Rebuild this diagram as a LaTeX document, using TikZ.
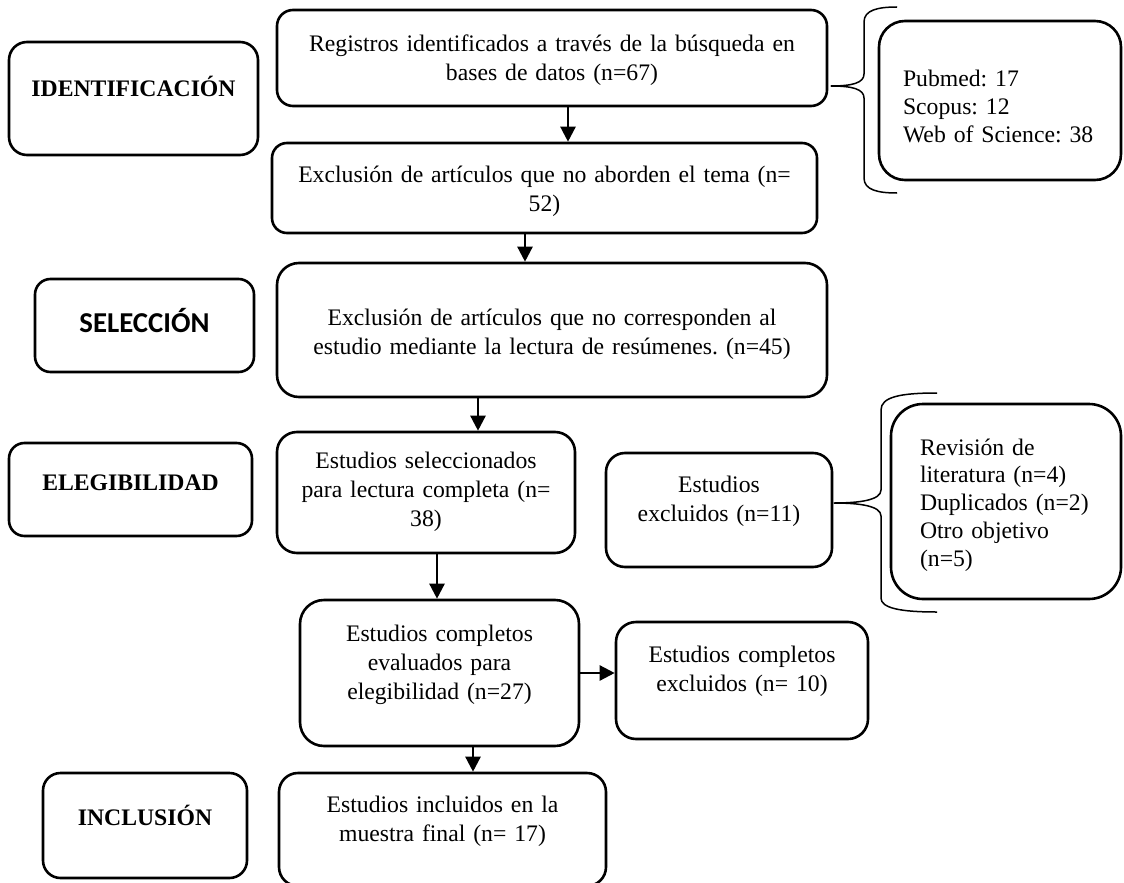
\documentclass[tikz,border=0pt]{standalone}
\usepackage{fontspec}
\setmainfont{Liberation Serif}
\newfontfamily\headsans{Carlito}
\usetikzlibrary{arrows.meta}
\newcommand\boxfont{\fontsize{11.85}{14.5}\selectfont\frenchspacing}
\newcommand\listfont{\fontsize{11.85}{13.9}\selectfont\frenchspacing}

\begin{document}
\begin{tikzpicture}[
    x=0.5pt, y=-0.5pt,
    panel/.style n args={4}{draw, line width=1.3pt, inner sep=0pt, align=center, font=\boxfont,
        text width=#1, minimum width=#1, text height=#2, text depth=#3, rounded corners=#4},
    stage/.style={font=\boxfont\bfseries},
    listing/.style={align=left, font=\listfont, text width=#1},
    arrow/.style={-{Triangle[length=7.5pt,width=7.5pt]}, line width=1.2pt},
    brace/.style={line width=0.75pt, line join=round}
]
\useasboundingbox (0,0) rectangle (1124,883);

% Stage labels
\node[panel={124.5pt}{27.5pt}{29pt}{9pt}, stage] (ident) at (133.5,98.5) {IDENTIFICACIÓN};
\node[panel={109.5pt}{26.5pt}{20pt}{7.75pt}, font=\headsans\fontsize{14.4}{16}\selectfont\bfseries] (selec) at (144.5,325.5) {SELECCIÓN};
\node[panel={121.5pt}{23.5pt}{23pt}{7.75pt}, stage] (elig) at (130.5,489.5) {ELEGIBILIDAD};
\node[panel={102pt}{26pt}{26.5pt}{8.75pt}, stage] (incl) at (145,825.5) {INCLUSIÓN};

% Flow boxes
\node[panel={275pt}{21pt}{27pt}{8pt}] (reg) at (552,58)
    {Registros identificados a través de la búsqueda en\\bases de datos (n=67)};
\node[panel={272.5pt}{19.5pt}{25.5pt}{7.5pt}] (excl1) at (544.5,188)
    {Exclusión de artículos que no aborden el tema (n=\\52)};
\node[panel={275pt}{31pt}{36pt}{11pt}] (excl2) at (552,330)
    {Exclusión de artículos que no corresponden al\\estudio mediante la lectura de resúmenes. (n=45)};
\node[panel={149pt}{18pt}{42.5pt}{10pt}] (sel38) at (426,492.5)
    {Estudios seleccionados\\para lectura completa (n=\\38)};
\node[panel={113pt}{19.5pt}{37.5pt}{9.5pt}] (excl11) at (719,510)
    {Estudios\\excluidos (n=11)};
\node[panel={139.5pt}{20.5pt}{52.5pt}{12pt}] (eval27) at (439.5,673)
    {Estudios completos\\evaluados para\\elegibilidad (n=27)};
\node[panel={126pt}{20pt}{38.5pt}{10pt}] (excl10) at (742,680.5)
    {Estudios completos\\excluidos (n= 10)};
\node[panel={163.5pt}{19.5pt}{37pt}{9.5pt}] (fin) at (442.5,829.5)
    {Estudios incluidos en la\\muestra final (n= 17)};

% Detail lists
\node[panel={121pt}{33pt}{46.5pt}{13pt}, listing=97pt] (pub) at (1000,100.5)
    {Pubmed: 17\\Scopus: 12\\Web of Science: 38};
\node[panel={115pt}{25.5pt}{72pt}{16pt}, listing=86pt] (rev) at (1006,501.5)
    {Revisión de\\literatura (n=4)\\Duplicados (n=2)\\Otro objetivo\\(n=5)};

% Braces
\draw[brace] (897,7) .. controls (878,7) and (864,10) .. (864,22) -- (864,74)
    .. controls (864,83) and (852,86) .. (831,86)
    .. controls (852,86) and (864,89) .. (864,98) -- (864,178)
    .. controls (864,190) and (878,193) .. (897,193);
\draw[brace] (937,393) .. controls (900,393) and (881,397) .. (881,410) -- (881,490)
    .. controls (881,500) and (860,503) .. (834,503)
    .. controls (860,503) and (881,506) .. (881,516) -- (881,598)
    .. controls (881,608) and (900,612) .. (937,612);

% Arrows
\draw[arrow] ([xshift=8pt]reg.south) -- ([xshift=8pt]reg.south |- excl1.north);
\draw[arrow] ([xshift=-9.75pt]excl1.south) -- ([xshift=-9.75pt]excl1.south |- excl2.north);
\draw[arrow] ([xshift=-37pt]excl2.south) -- ([xshift=-37pt]excl2.south |- sel38.north);
\draw[arrow] ([xshift=5.5pt]sel38.south) -- ([xshift=5.5pt]sel38.south |- eval27.north);
\draw[arrow] ([xshift=16.75pt]eval27.south) -- ([xshift=16.75pt]eval27.south |- fin.north);
\draw[arrow] (eval27.east) -- (eval27.east -| excl10.west);

\end{tikzpicture}
\end{document}
